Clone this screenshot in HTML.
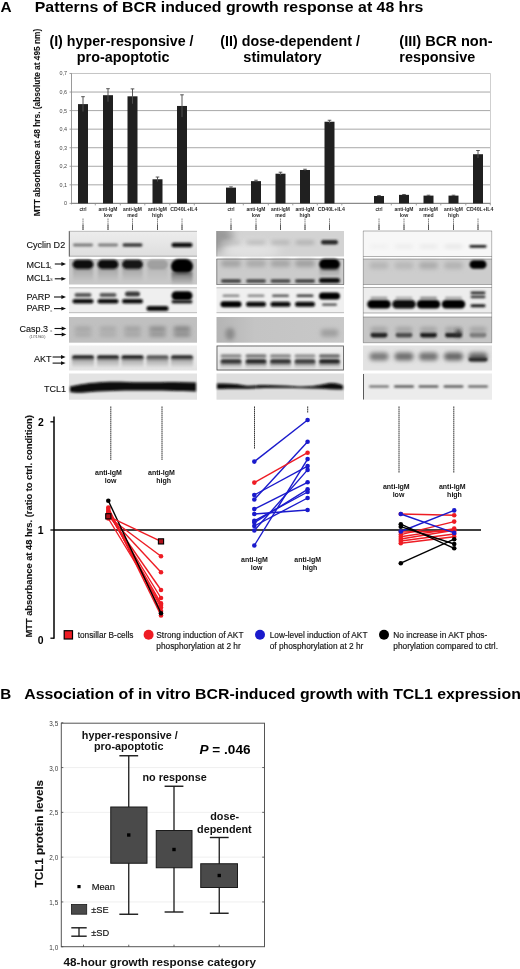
<!DOCTYPE html>
<html><head><meta charset="utf-8"><style>
html,body{margin:0;padding:0;background:#fff;}
body{width:520px;height:969px;overflow:hidden;}
svg{display:block;font-family:"Liberation Sans", sans-serif;filter:blur(0.3px);}
</style></head><body>
<svg width="520" height="969" viewBox="0 0 520 969">
<rect width="520" height="969" fill="#fff"/>
<text x="0.4" y="11.5" font-size="15.4" font-weight="bold" text-anchor="start" fill="#000" >A</text>
<text x="34.8" y="11.5" font-size="15.2" font-weight="bold" text-anchor="start" fill="#000"  textLength="388.5" lengthAdjust="spacingAndGlyphs">Patterns of BCR induced growth response at 48 hrs</text>
<text x="49.4" y="45.5" font-size="14.2" font-weight="bold" text-anchor="start" fill="#000"  textLength="144.2" lengthAdjust="spacingAndGlyphs">(I) hyper-responsive /</text>
<text x="76.8" y="61.7" font-size="14.2" font-weight="bold" text-anchor="start" fill="#000"  textLength="92.6" lengthAdjust="spacingAndGlyphs">pro-apoptotic</text>
<text x="220.3" y="45.5" font-size="14.2" font-weight="bold" text-anchor="start" fill="#000"  textLength="139.6" lengthAdjust="spacingAndGlyphs">(II) dose-dependent /</text>
<text x="243.3" y="61.7" font-size="14.2" font-weight="bold" text-anchor="start" fill="#000"  textLength="78.4" lengthAdjust="spacingAndGlyphs">stimulatory</text>
<text x="399.3" y="45.5" font-size="14.2" font-weight="bold" text-anchor="start" fill="#000"  textLength="93.2" lengthAdjust="spacingAndGlyphs">(III) BCR non-</text>
<text x="399.3" y="61.7" font-size="14.2" font-weight="bold" text-anchor="start" fill="#000"  textLength="76" lengthAdjust="spacingAndGlyphs">responsive</text>
<line x1="71" y1="184.84" x2="490.5" y2="184.84" stroke="#a8a8a8" stroke-width="1" />
<line x1="71" y1="166.28" x2="490.5" y2="166.28" stroke="#a8a8a8" stroke-width="1" />
<line x1="71" y1="147.72" x2="490.5" y2="147.72" stroke="#a8a8a8" stroke-width="1" />
<line x1="71" y1="129.16000000000003" x2="490.5" y2="129.16000000000003" stroke="#a8a8a8" stroke-width="1" />
<line x1="71" y1="110.60000000000001" x2="490.5" y2="110.60000000000001" stroke="#a8a8a8" stroke-width="1" />
<line x1="71" y1="92.04" x2="490.5" y2="92.04" stroke="#a8a8a8" stroke-width="1" />
<line x1="71" y1="73.48000000000002" x2="490.5" y2="73.48000000000002" stroke="#c4c4c4" stroke-width="1" />
<line x1="490.5" y1="73.48000000000002" x2="490.5" y2="203.4" stroke="#cfcfcf" stroke-width="1" />
<line x1="71.5" y1="73.48000000000002" x2="71.5" y2="204.4" stroke="#9a9a9a" stroke-width="1" />
<line x1="71" y1="203.4" x2="490.5" y2="203.4" stroke="#8a8a8a" stroke-width="1.1" />
<line x1="69.5" y1="203.4" x2="71.5" y2="203.4" stroke="#8a8a8a" stroke-width="0.8" />
<text x="67" y="205.3" font-size="5.4" text-anchor="end" fill="#444" >0</text>
<line x1="69.5" y1="184.84" x2="71.5" y2="184.84" stroke="#8a8a8a" stroke-width="0.8" />
<text x="67" y="186.74" font-size="5.4" text-anchor="end" fill="#444" >0,1</text>
<line x1="69.5" y1="166.28" x2="71.5" y2="166.28" stroke="#8a8a8a" stroke-width="0.8" />
<text x="67" y="168.18" font-size="5.4" text-anchor="end" fill="#444" >0,2</text>
<line x1="69.5" y1="147.72" x2="71.5" y2="147.72" stroke="#8a8a8a" stroke-width="0.8" />
<text x="67" y="149.62" font-size="5.4" text-anchor="end" fill="#444" >0,3</text>
<line x1="69.5" y1="129.16000000000003" x2="71.5" y2="129.16000000000003" stroke="#8a8a8a" stroke-width="0.8" />
<text x="67" y="131.06000000000003" font-size="5.4" text-anchor="end" fill="#444" >0,4</text>
<line x1="69.5" y1="110.60000000000001" x2="71.5" y2="110.60000000000001" stroke="#8a8a8a" stroke-width="0.8" />
<text x="67" y="112.50000000000001" font-size="5.4" text-anchor="end" fill="#444" >0,5</text>
<line x1="69.5" y1="92.04" x2="71.5" y2="92.04" stroke="#8a8a8a" stroke-width="0.8" />
<text x="67" y="93.94000000000001" font-size="5.4" text-anchor="end" fill="#444" >0,6</text>
<line x1="69.5" y1="73.48000000000002" x2="71.5" y2="73.48000000000002" stroke="#8a8a8a" stroke-width="0.8" />
<text x="67" y="75.38000000000002" font-size="5.4" text-anchor="end" fill="#444" >0,7</text>
<line x1="95.3" y1="203.4" x2="95.3" y2="205.4" stroke="#8a8a8a" stroke-width="0.8" />
<line x1="120.3" y1="203.4" x2="120.3" y2="205.4" stroke="#8a8a8a" stroke-width="0.8" />
<line x1="144.8" y1="203.4" x2="144.8" y2="205.4" stroke="#8a8a8a" stroke-width="0.8" />
<line x1="169.8" y1="203.4" x2="169.8" y2="205.4" stroke="#8a8a8a" stroke-width="0.8" />
<line x1="194.3" y1="203.4" x2="194.3" y2="205.4" stroke="#8a8a8a" stroke-width="0.8" />
<line x1="243.3" y1="203.4" x2="243.3" y2="205.4" stroke="#8a8a8a" stroke-width="0.8" />
<line x1="268.3" y1="203.4" x2="268.3" y2="205.4" stroke="#8a8a8a" stroke-width="0.8" />
<line x1="292.8" y1="203.4" x2="292.8" y2="205.4" stroke="#8a8a8a" stroke-width="0.8" />
<line x1="317.3" y1="203.4" x2="317.3" y2="205.4" stroke="#8a8a8a" stroke-width="0.8" />
<line x1="341.8" y1="203.4" x2="341.8" y2="205.4" stroke="#8a8a8a" stroke-width="0.8" />
<line x1="391.3" y1="203.4" x2="391.3" y2="205.4" stroke="#8a8a8a" stroke-width="0.8" />
<line x1="416.3" y1="203.4" x2="416.3" y2="205.4" stroke="#8a8a8a" stroke-width="0.8" />
<line x1="440.8" y1="203.4" x2="440.8" y2="205.4" stroke="#8a8a8a" stroke-width="0.8" />
<line x1="465.8" y1="203.4" x2="465.8" y2="205.4" stroke="#8a8a8a" stroke-width="0.8" />
<line x1="490.3" y1="203.4" x2="490.3" y2="205.4" stroke="#8a8a8a" stroke-width="0.8" />
<rect x="78" y="104.104" width="10" height="99.296" fill="#202020" />
<line x1="83" y1="104.104" x2="83" y2="111.528" stroke="#5a5a5a" stroke-width="0.8" />
<line x1="83" y1="96.67999999999999" x2="83" y2="104.104" stroke="#444" stroke-width="0.9" />
<line x1="81.2" y1="96.67999999999999" x2="84.8" y2="96.67999999999999" stroke="#444" stroke-width="0.9" />
<rect x="103" y="95.19520000000001" width="10" height="108.20479999999999" fill="#202020" />
<line x1="108" y1="95.19520000000001" x2="108" y2="101.69120000000002" stroke="#5a5a5a" stroke-width="0.8" />
<line x1="108" y1="88.6992" x2="108" y2="95.19520000000001" stroke="#444" stroke-width="0.9" />
<line x1="106.2" y1="88.6992" x2="109.8" y2="88.6992" stroke="#444" stroke-width="0.9" />
<rect x="127.5" y="96.30880000000002" width="10" height="107.09119999999999" fill="#202020" />
<line x1="132.5" y1="96.30880000000002" x2="132.5" y2="103.73280000000003" stroke="#5a5a5a" stroke-width="0.8" />
<line x1="132.5" y1="88.88480000000001" x2="132.5" y2="96.30880000000002" stroke="#444" stroke-width="0.9" />
<line x1="130.7" y1="88.88480000000001" x2="134.3" y2="88.88480000000001" stroke="#444" stroke-width="0.9" />
<rect x="152.5" y="179.272" width="10" height="24.128" fill="#202020" />
<line x1="157.5" y1="179.272" x2="157.5" y2="181.4992" stroke="#5a5a5a" stroke-width="0.8" />
<line x1="157.5" y1="177.0448" x2="157.5" y2="179.272" stroke="#444" stroke-width="0.9" />
<line x1="155.7" y1="177.0448" x2="159.3" y2="177.0448" stroke="#444" stroke-width="0.9" />
<rect x="177" y="105.96000000000001" width="10" height="97.44" fill="#202020" />
<line x1="182" y1="105.96000000000001" x2="182" y2="117.096" stroke="#5a5a5a" stroke-width="0.8" />
<line x1="182" y1="94.82400000000001" x2="182" y2="105.96000000000001" stroke="#444" stroke-width="0.9" />
<line x1="180.2" y1="94.82400000000001" x2="183.8" y2="94.82400000000001" stroke="#444" stroke-width="0.9" />
<rect x="226" y="187.624" width="10" height="15.776" fill="#202020" />
<line x1="231" y1="187.624" x2="231" y2="188.3664" stroke="#5a5a5a" stroke-width="0.8" />
<line x1="231" y1="186.8816" x2="231" y2="187.624" stroke="#444" stroke-width="0.9" />
<line x1="229.2" y1="186.8816" x2="232.8" y2="186.8816" stroke="#444" stroke-width="0.9" />
<rect x="251" y="181.12800000000001" width="10" height="22.272" fill="#202020" />
<line x1="256" y1="181.12800000000001" x2="256" y2="182.056" stroke="#5a5a5a" stroke-width="0.8" />
<line x1="256" y1="180.20000000000002" x2="256" y2="181.12800000000001" stroke="#444" stroke-width="0.9" />
<line x1="254.2" y1="180.20000000000002" x2="257.8" y2="180.20000000000002" stroke="#444" stroke-width="0.9" />
<rect x="275.5" y="173.704" width="10" height="29.695999999999998" fill="#202020" />
<line x1="280.5" y1="173.704" x2="280.5" y2="175.18880000000001" stroke="#5a5a5a" stroke-width="0.8" />
<line x1="280.5" y1="172.2192" x2="280.5" y2="173.704" stroke="#444" stroke-width="0.9" />
<line x1="278.7" y1="172.2192" x2="282.3" y2="172.2192" stroke="#444" stroke-width="0.9" />
<rect x="300" y="169.99200000000002" width="10" height="33.408" fill="#202020" />
<line x1="305" y1="169.99200000000002" x2="305" y2="170.7344" stroke="#5a5a5a" stroke-width="0.8" />
<line x1="305" y1="169.24960000000002" x2="305" y2="169.99200000000002" stroke="#444" stroke-width="0.9" />
<line x1="303.2" y1="169.24960000000002" x2="306.8" y2="169.24960000000002" stroke="#444" stroke-width="0.9" />
<rect x="324.5" y="121.736" width="10" height="81.664" fill="#202020" />
<line x1="329.5" y1="121.736" x2="329.5" y2="123.22080000000001" stroke="#5a5a5a" stroke-width="0.8" />
<line x1="329.5" y1="120.25120000000001" x2="329.5" y2="121.736" stroke="#444" stroke-width="0.9" />
<line x1="327.7" y1="120.25120000000001" x2="331.3" y2="120.25120000000001" stroke="#444" stroke-width="0.9" />
<rect x="374" y="195.976" width="10" height="7.4239999999999995" fill="#202020" />
<line x1="379" y1="195.976" x2="379" y2="196.34720000000002" stroke="#5a5a5a" stroke-width="0.8" />
<line x1="379" y1="195.6048" x2="379" y2="195.976" stroke="#444" stroke-width="0.9" />
<line x1="377.2" y1="195.6048" x2="380.8" y2="195.6048" stroke="#444" stroke-width="0.9" />
<rect x="399" y="194.8624" width="10" height="8.5376" fill="#202020" />
<line x1="404" y1="194.8624" x2="404" y2="195.2336" stroke="#5a5a5a" stroke-width="0.8" />
<line x1="404" y1="194.4912" x2="404" y2="194.8624" stroke="#444" stroke-width="0.9" />
<line x1="402.2" y1="194.4912" x2="405.8" y2="194.4912" stroke="#444" stroke-width="0.9" />
<rect x="423.5" y="195.6048" width="10" height="7.7952" fill="#202020" />
<line x1="428.5" y1="195.6048" x2="428.5" y2="195.976" stroke="#5a5a5a" stroke-width="0.8" />
<line x1="428.5" y1="195.2336" x2="428.5" y2="195.6048" stroke="#444" stroke-width="0.9" />
<line x1="426.7" y1="195.2336" x2="430.3" y2="195.2336" stroke="#444" stroke-width="0.9" />
<rect x="448.5" y="195.6048" width="10" height="7.7952" fill="#202020" />
<line x1="453.5" y1="195.6048" x2="453.5" y2="195.976" stroke="#5a5a5a" stroke-width="0.8" />
<line x1="453.5" y1="195.2336" x2="453.5" y2="195.6048" stroke="#444" stroke-width="0.9" />
<line x1="451.7" y1="195.2336" x2="455.3" y2="195.2336" stroke="#444" stroke-width="0.9" />
<rect x="473" y="154.216" width="10" height="49.184" fill="#202020" />
<line x1="478" y1="154.216" x2="478" y2="157.928" stroke="#5a5a5a" stroke-width="0.8" />
<line x1="478" y1="150.50400000000002" x2="478" y2="154.216" stroke="#444" stroke-width="0.9" />
<line x1="476.2" y1="150.50400000000002" x2="479.8" y2="150.50400000000002" stroke="#444" stroke-width="0.9" />
<text x="83" y="211.1" font-size="5.6" font-weight="bold" text-anchor="middle" fill="#2a2a2a"  textLength="7.2" lengthAdjust="spacingAndGlyphs">ctrl</text>
<line x1="83" y1="218.5" x2="83" y2="230" stroke="#555" stroke-width="0.8" stroke-dasharray="1.4 0.6"/>
<text x="108" y="211.1" font-size="5.6" font-weight="bold" text-anchor="middle" fill="#2a2a2a"  textLength="19.0" lengthAdjust="spacingAndGlyphs">anti-IgM</text>
<text x="108" y="216.6" font-size="5.6" font-weight="bold" text-anchor="middle" fill="#2a2a2a"  textLength="8.6" lengthAdjust="spacingAndGlyphs">low</text>
<line x1="108" y1="218.5" x2="108" y2="230" stroke="#555" stroke-width="0.8" stroke-dasharray="1.4 0.6"/>
<text x="132.5" y="211.1" font-size="5.6" font-weight="bold" text-anchor="middle" fill="#2a2a2a"  textLength="19.0" lengthAdjust="spacingAndGlyphs">anti-IgM</text>
<text x="132.5" y="216.6" font-size="5.6" font-weight="bold" text-anchor="middle" fill="#2a2a2a"  textLength="10.5" lengthAdjust="spacingAndGlyphs">med</text>
<line x1="132.5" y1="218.5" x2="132.5" y2="230" stroke="#555" stroke-width="0.8" stroke-dasharray="1.4 0.6"/>
<text x="157.5" y="211.1" font-size="5.6" font-weight="bold" text-anchor="middle" fill="#2a2a2a"  textLength="19.0" lengthAdjust="spacingAndGlyphs">anti-IgM</text>
<text x="157.5" y="216.6" font-size="5.6" font-weight="bold" text-anchor="middle" fill="#2a2a2a"  textLength="10.8" lengthAdjust="spacingAndGlyphs">high</text>
<line x1="157.5" y1="218.5" x2="157.5" y2="230" stroke="#555" stroke-width="0.8" stroke-dasharray="1.4 0.6"/>
<text x="183.8" y="211.1" font-size="5.6" font-weight="bold" text-anchor="middle" fill="#2a2a2a"  textLength="27.2" lengthAdjust="spacingAndGlyphs">CD40L+IL4</text>
<line x1="182" y1="218.5" x2="182" y2="230" stroke="#555" stroke-width="0.8" stroke-dasharray="1.4 0.6"/>
<text x="231" y="211.1" font-size="5.6" font-weight="bold" text-anchor="middle" fill="#2a2a2a"  textLength="7.2" lengthAdjust="spacingAndGlyphs">ctrl</text>
<line x1="231" y1="218.5" x2="231" y2="230" stroke="#555" stroke-width="0.8" stroke-dasharray="1.4 0.6"/>
<text x="256" y="211.1" font-size="5.6" font-weight="bold" text-anchor="middle" fill="#2a2a2a"  textLength="19.0" lengthAdjust="spacingAndGlyphs">anti-IgM</text>
<text x="256" y="216.6" font-size="5.6" font-weight="bold" text-anchor="middle" fill="#2a2a2a"  textLength="8.6" lengthAdjust="spacingAndGlyphs">low</text>
<line x1="256" y1="218.5" x2="256" y2="230" stroke="#555" stroke-width="0.8" stroke-dasharray="1.4 0.6"/>
<text x="280.5" y="211.1" font-size="5.6" font-weight="bold" text-anchor="middle" fill="#2a2a2a"  textLength="19.0" lengthAdjust="spacingAndGlyphs">anti-IgM</text>
<text x="280.5" y="216.6" font-size="5.6" font-weight="bold" text-anchor="middle" fill="#2a2a2a"  textLength="10.5" lengthAdjust="spacingAndGlyphs">med</text>
<line x1="280.5" y1="218.5" x2="280.5" y2="230" stroke="#555" stroke-width="0.8" stroke-dasharray="1.4 0.6"/>
<text x="305" y="211.1" font-size="5.6" font-weight="bold" text-anchor="middle" fill="#2a2a2a"  textLength="19.0" lengthAdjust="spacingAndGlyphs">anti-IgM</text>
<text x="305" y="216.6" font-size="5.6" font-weight="bold" text-anchor="middle" fill="#2a2a2a"  textLength="10.8" lengthAdjust="spacingAndGlyphs">high</text>
<line x1="305" y1="218.5" x2="305" y2="230" stroke="#555" stroke-width="0.8" stroke-dasharray="1.4 0.6"/>
<text x="331.3" y="211.1" font-size="5.6" font-weight="bold" text-anchor="middle" fill="#2a2a2a"  textLength="27.2" lengthAdjust="spacingAndGlyphs">CD40L+IL4</text>
<line x1="329.5" y1="218.5" x2="329.5" y2="230" stroke="#555" stroke-width="0.8" stroke-dasharray="1.4 0.6"/>
<text x="379" y="211.1" font-size="5.6" font-weight="bold" text-anchor="middle" fill="#2a2a2a"  textLength="7.2" lengthAdjust="spacingAndGlyphs">ctrl</text>
<line x1="379" y1="218.5" x2="379" y2="230" stroke="#555" stroke-width="0.8" stroke-dasharray="1.4 0.6"/>
<text x="404" y="211.1" font-size="5.6" font-weight="bold" text-anchor="middle" fill="#2a2a2a"  textLength="19.0" lengthAdjust="spacingAndGlyphs">anti-IgM</text>
<text x="404" y="216.6" font-size="5.6" font-weight="bold" text-anchor="middle" fill="#2a2a2a"  textLength="8.6" lengthAdjust="spacingAndGlyphs">low</text>
<line x1="404" y1="218.5" x2="404" y2="230" stroke="#555" stroke-width="0.8" stroke-dasharray="1.4 0.6"/>
<text x="428.5" y="211.1" font-size="5.6" font-weight="bold" text-anchor="middle" fill="#2a2a2a"  textLength="19.0" lengthAdjust="spacingAndGlyphs">anti-IgM</text>
<text x="428.5" y="216.6" font-size="5.6" font-weight="bold" text-anchor="middle" fill="#2a2a2a"  textLength="10.5" lengthAdjust="spacingAndGlyphs">med</text>
<line x1="428.5" y1="218.5" x2="428.5" y2="230" stroke="#555" stroke-width="0.8" stroke-dasharray="1.4 0.6"/>
<text x="453.5" y="211.1" font-size="5.6" font-weight="bold" text-anchor="middle" fill="#2a2a2a"  textLength="19.0" lengthAdjust="spacingAndGlyphs">anti-IgM</text>
<text x="453.5" y="216.6" font-size="5.6" font-weight="bold" text-anchor="middle" fill="#2a2a2a"  textLength="10.8" lengthAdjust="spacingAndGlyphs">high</text>
<line x1="453.5" y1="218.5" x2="453.5" y2="230" stroke="#555" stroke-width="0.8" stroke-dasharray="1.4 0.6"/>
<text x="479.8" y="211.1" font-size="5.6" font-weight="bold" text-anchor="middle" fill="#2a2a2a"  textLength="27.2" lengthAdjust="spacingAndGlyphs">CD40L+IL4</text>
<line x1="478" y1="218.5" x2="478" y2="230" stroke="#555" stroke-width="0.8" stroke-dasharray="1.4 0.6"/>
<text transform="translate(40.2,216.3) rotate(-90)" font-size="8.3" font-weight="bold" fill="#111" stroke="#111" stroke-width="0.1" textLength="187.5" lengthAdjust="spacingAndGlyphs">MTT absorbance at 48 hrs. (absolute at 495 nm)</text>
<defs><filter id="b1" x="-50%" y="-100%" width="200%" height="300%"><feGaussianBlur stdDeviation="0.9"/></filter><filter id="bl" x="-50%" y="-100%" width="200%" height="300%"><feGaussianBlur stdDeviation="1.3"/></filter><filter id="bl2" x="-50%" y="-100%" width="200%" height="300%"><feGaussianBlur stdDeviation="2.2"/></filter><filter id="bl3" x="-50%" y="-50%" width="200%" height="200%"><feGaussianBlur stdDeviation="4"/></filter><radialGradient id="g2c" cx="0.05" cy="0.2" r="0.9" gradientTransform="translate(0.05,0.2) scale(1,3) translate(-0.05,-0.2)"><stop offset="0" stop-color="#a4a4a4"/><stop offset="0.25" stop-color="#c6c6c6"/><stop offset="0.6" stop-color="#d2d2d2"/><stop offset="1" stop-color="#dcdcdc"/></radialGradient><linearGradient id="g1c" x1="0" y1="0" x2="0" y2="1"><stop offset="0" stop-color="#ededed"/><stop offset="1" stop-color="#dedede"/></linearGradient><linearGradient id="akt" x1="0" y1="0" x2="0" y2="1"><stop offset="0" stop-color="#f0f0f0"/><stop offset="1" stop-color="#e2e2e2"/></linearGradient><linearGradient id="smear" x1="0" y1="0" x2="0" y2="1"><stop offset="0" stop-color="#666"/><stop offset="1" stop-color="#666" stop-opacity="0"/></linearGradient><linearGradient id="g2casp" x1="0" y1="0" x2="1" y2="0"><stop offset="0" stop-color="#b4b4b4"/><stop offset="0.3" stop-color="#c4c4c4"/><stop offset="1" stop-color="#c8c8c8"/></linearGradient></defs>
<rect x="69" y="231" width="128" height="25.5" fill="url(#g1c)" />
<rect x="69" y="259" width="128" height="25.5" fill="#c8c8c8" />
<rect x="69" y="287.5" width="128" height="25.5" fill="#efefef" />
<rect x="69" y="317" width="128" height="25.69999999999999" fill="#c0c0c0" />
<rect x="69" y="345.5" width="128" height="25.0" fill="url(#akt)" />
<rect x="69" y="373.5" width="128" height="26.19999999999999" fill="#e3e3e3" />
<rect x="216.5" y="231" width="127.5" height="25.5" fill="#d3d3d3" />
<rect x="216.5" y="259" width="127.5" height="25.5" fill="#cbcbcb" />
<rect x="216.5" y="287.5" width="127.5" height="25.5" fill="#f0f0f0" />
<rect x="216.5" y="317" width="127.5" height="25.69999999999999" fill="url(#g2casp)" />
<rect x="216.5" y="345.5" width="127.5" height="25.0" fill="url(#akt)" />
<rect x="216.5" y="373.5" width="127.5" height="26.19999999999999" fill="#dedede" />
<rect x="363" y="231" width="129" height="25.5" fill="#f7f7f7" />
<rect x="363" y="259" width="129" height="25.5" fill="#cdcdcd" />
<rect x="363" y="287.5" width="129" height="25.5" fill="#ededed" />
<rect x="363" y="317" width="129" height="25.69999999999999" fill="#c6c6c6" />
<rect x="363" y="345.5" width="129" height="25.0" fill="#e2e2e2" />
<rect x="363" y="373.5" width="129" height="26.19999999999999" fill="#ececec" />
<rect x="73.0" y="243.6" width="20" height="2.8" rx="1.4" fill="#7a7a7a" opacity="1" filter="url(#bl)"/>
<rect x="98.0" y="243.6" width="20" height="2.8" rx="1.4" fill="#7e7e7e" opacity="1" filter="url(#bl)"/>
<rect x="122.5" y="243.3" width="20" height="3.4" rx="1.7" fill="#3a3a3a" opacity="1" filter="url(#bl)"/>
<rect x="171.5" y="242.7" width="21" height="4.6" rx="2.3" fill="#101010" opacity="1" filter="url(#bl)"/>
<rect x="72.5" y="259.75" width="21" height="9.5" rx="4.75" fill="#101010" opacity="1" filter="url(#bl)"/>
<rect x="73.0" y="268" width="20" height="14" fill="url(#smear)" opacity="0.35" filter="url(#b1)"/>
<rect x="97.5" y="259.75" width="21" height="9.5" rx="4.75" fill="#101010" opacity="1" filter="url(#bl)"/>
<rect x="98.0" y="268" width="20" height="14" fill="url(#smear)" opacity="0.35" filter="url(#b1)"/>
<rect x="122.0" y="259.75" width="21" height="9.5" rx="4.75" fill="#181818" opacity="1" filter="url(#bl)"/>
<rect x="122.5" y="268" width="20" height="14" fill="url(#smear)" opacity="0.35" filter="url(#b1)"/>
<rect x="147.0" y="259.75" width="21" height="9.5" rx="4.75" fill="#a0a0a0" opacity="1" filter="url(#bl)"/>
<rect x="147.5" y="268" width="20" height="14" fill="url(#smear)" opacity="0.15" filter="url(#b1)"/>
<rect x="171.0" y="259.0" width="22" height="15" rx="7.5" fill="#060606" opacity="1" filter="url(#bl)"/>
<rect x="171.5" y="272" width="21" height="13" fill="url(#smear)" opacity="0.9" filter="url(#b1)"/>
<rect x="74.5" y="293.0" width="17" height="4" rx="2.0" fill="#5a5a5a" opacity="1" filter="url(#bl)"/>
<rect x="72.5" y="299.0" width="21" height="4.6" rx="2.3" fill="#101010" opacity="1" filter="url(#bl)"/>
<rect x="99.5" y="293.0" width="17" height="4" rx="2.0" fill="#5a5a5a" opacity="1" filter="url(#bl)"/>
<rect x="97.5" y="299.0" width="21" height="4.6" rx="2.3" fill="#101010" opacity="1" filter="url(#bl)"/>
<rect x="125.0" y="291.5" width="15" height="5" rx="2.5" fill="#3a3a3a" opacity="1" filter="url(#bl)"/>
<rect x="122.0" y="299.0" width="21" height="4.6" rx="2.3" fill="#101010" opacity="1" filter="url(#bl)"/>
<rect x="146.5" y="306.1" width="22" height="5" rx="2.5" fill="#0a0a0a" opacity="1" filter="url(#bl)"/>
<rect x="171.5" y="291.3" width="21" height="9" rx="4.5" fill="#050505" opacity="1" filter="url(#bl)"/>
<rect x="171.5" y="300.1" width="21" height="3.4" rx="1.7" fill="#222" opacity="1" filter="url(#bl)"/>
<line x1="69" y1="287.8" x2="197" y2="287.8" stroke="#999" stroke-width="0.6" />
<line x1="69" y1="312.7" x2="197" y2="312.7" stroke="#999" stroke-width="0.6" />
<rect x="74.5" y="326.75" width="17" height="4.5" rx="2.25" fill="#a2a2a2" opacity="1" filter="url(#bl2)"/>
<rect x="74.5" y="332.75" width="17" height="3.5" rx="1.75" fill="#a2a2a2" opacity="1" filter="url(#bl2)"/>
<rect x="99.5" y="326.75" width="17" height="4.5" rx="2.25" fill="#a6a6a6" opacity="1" filter="url(#bl2)"/>
<rect x="99.5" y="332.75" width="17" height="3.5" rx="1.75" fill="#a6a6a6" opacity="1" filter="url(#bl2)"/>
<rect x="124.0" y="326.75" width="17" height="4.5" rx="2.25" fill="#9c9c9c" opacity="1" filter="url(#bl2)"/>
<rect x="124.0" y="332.75" width="17" height="3.5" rx="1.75" fill="#9c9c9c" opacity="1" filter="url(#bl2)"/>
<rect x="149.0" y="326.75" width="17" height="4.5" rx="2.25" fill="#858585" opacity="1" filter="url(#bl2)"/>
<rect x="149.0" y="332.75" width="17" height="3.5" rx="1.75" fill="#858585" opacity="1" filter="url(#bl2)"/>
<rect x="173.5" y="326.75" width="17" height="4.5" rx="2.25" fill="#7a7a7a" opacity="1" filter="url(#bl2)"/>
<rect x="173.5" y="332.75" width="17" height="3.5" rx="1.75" fill="#7a7a7a" opacity="1" filter="url(#bl2)"/>
<rect x="72.0" y="355.3" width="22" height="4" rx="2.0" fill="#222" opacity="1" filter="url(#bl)"/>
<rect x="72.0" y="358" width="22" height="10" fill="url(#smear)" opacity="0.6" filter="url(#b1)"/>
<rect x="97.0" y="355.3" width="22" height="4" rx="2.0" fill="#222" opacity="1" filter="url(#bl)"/>
<rect x="97.0" y="358" width="22" height="10" fill="url(#smear)" opacity="0.6" filter="url(#b1)"/>
<rect x="121.5" y="355.3" width="22" height="4" rx="2.0" fill="#1e1e1e" opacity="1" filter="url(#bl)"/>
<rect x="121.5" y="358" width="22" height="10" fill="url(#smear)" opacity="0.6" filter="url(#b1)"/>
<rect x="146.5" y="355.3" width="22" height="4" rx="2.0" fill="#5a5a5a" opacity="1" filter="url(#bl)"/>
<rect x="146.5" y="358" width="22" height="10" fill="url(#smear)" opacity="0.6" filter="url(#b1)"/>
<rect x="171.0" y="355.3" width="22" height="4" rx="2.0" fill="#2a2a2a" opacity="1" filter="url(#bl)"/>
<rect x="171.0" y="358" width="22" height="10" fill="url(#smear)" opacity="0.6" filter="url(#b1)"/>
<path d="M70,386.5 C80,384.5 90,382.5 105,382 C120,381.5 130,382.5 145,382.3 C165,382 180,381.5 196,382.5 L196,391.5 C180,391 160,390.5 140,390.5 C120,390.5 100,391 85,392.5 C78,393 72,392.5 70,392 Z" fill="#080808" filter="url(#b1)"/>
<line x1="69.3" y1="231" x2="69.3" y2="256.5" stroke="#555" stroke-width="1" />
<line x1="69" y1="231.3" x2="197" y2="231.3" stroke="#999" stroke-width="0.6" />
<line x1="69" y1="256.2" x2="197" y2="256.2" stroke="#888" stroke-width="0.6" />
<clipPath id="cp2c"><rect x="216.5" y="231" width="127.5" height="25.5"/></clipPath>
<g clip-path="url(#cp2c)"><ellipse cx="219" cy="238" rx="14" ry="14" fill="#9a9a9a" filter="url(#bl3)"/><ellipse cx="250" cy="250" rx="30" ry="8" fill="#e2e2e2" filter="url(#bl3)"/></g>
<rect x="221.5" y="240.9" width="19" height="3.2" rx="1.6" fill="#bcbcbc" opacity="1" filter="url(#bl2)"/>
<rect x="246.5" y="240.9" width="19" height="3.2" rx="1.6" fill="#b0b0b0" opacity="1" filter="url(#bl2)"/>
<rect x="271.0" y="240.9" width="19" height="3.2" rx="1.6" fill="#aaaaaa" opacity="1" filter="url(#bl2)"/>
<rect x="295.5" y="240.9" width="19" height="3.2" rx="1.6" fill="#a2a2a2" opacity="1" filter="url(#bl2)"/>
<rect x="321.0" y="240.0" width="17" height="4.6" rx="2.3" fill="#262626" opacity="1" filter="url(#bl)"/>
<rect x="221.0" y="260.0" width="20" height="7" rx="3.5" fill="#a4a4a4" opacity="1" filter="url(#bl2)"/>
<rect x="246.0" y="260.0" width="20" height="7" rx="3.5" fill="#aaaaaa" opacity="1" filter="url(#bl2)"/>
<rect x="270.5" y="260.0" width="20" height="7" rx="3.5" fill="#a6a6a6" opacity="1" filter="url(#bl2)"/>
<rect x="295.0" y="260.0" width="20" height="7" rx="3.5" fill="#a0a0a0" opacity="1" filter="url(#bl2)"/>
<rect x="319.0" y="258.8" width="21" height="11" rx="5.5" fill="#050505" opacity="1" filter="url(#bl)"/>
<rect x="221.0" y="279.2" width="20" height="3.6" rx="1.8" fill="#3e3e3e" opacity="1" filter="url(#bl)"/>
<rect x="246.0" y="279.2" width="20" height="3.6" rx="1.8" fill="#464646" opacity="1" filter="url(#bl)"/>
<rect x="270.5" y="279.2" width="20" height="3.6" rx="1.8" fill="#464646" opacity="1" filter="url(#bl)"/>
<rect x="295.0" y="279.2" width="20" height="3.6" rx="1.8" fill="#3e3e3e" opacity="1" filter="url(#bl)"/>
<rect x="319.0" y="278.0" width="21" height="5" rx="2.5" fill="#0e0e0e" opacity="1" filter="url(#bl)"/>
<rect x="319.5" y="268" width="20" height="10" fill="url(#smear)" opacity="0.5" filter="url(#b1)"/>
<rect x="222.5" y="294.5" width="17" height="2.6" rx="1.3" fill="#8a8a8a" opacity="1" filter="url(#bl)"/>
<rect x="247.5" y="294.5" width="17" height="2.6" rx="1.3" fill="#8a8a8a" opacity="1" filter="url(#bl)"/>
<rect x="272.0" y="294.5" width="17" height="2.6" rx="1.3" fill="#5a5a5a" opacity="1" filter="url(#bl)"/>
<rect x="296.5" y="294.5" width="17" height="2.6" rx="1.3" fill="#3a3a3a" opacity="1" filter="url(#bl)"/>
<rect x="319.0" y="292.5" width="21" height="7" rx="3.5" fill="#050505" opacity="1" filter="url(#bl)"/>
<rect x="220.5" y="301.3" width="21" height="6" rx="3.0" fill="#050505" opacity="1" filter="url(#bl)"/>
<rect x="246.0" y="301.8" width="20" height="5" rx="2.5" fill="#0a0a0a" opacity="1" filter="url(#bl)"/>
<rect x="270.5" y="301.8" width="20" height="5" rx="2.5" fill="#0a0a0a" opacity="1" filter="url(#bl)"/>
<rect x="295.0" y="301.8" width="20" height="5" rx="2.5" fill="#0a0a0a" opacity="1" filter="url(#bl)"/>
<rect x="322.0" y="303.40000000000003" width="15" height="2.4" rx="1.2" fill="#4a4a4a" opacity="1" filter="url(#bl)"/>
<line x1="216.5" y1="287.8" x2="344" y2="287.8" stroke="#999" stroke-width="0.6" />
<line x1="216.5" y1="312.7" x2="344" y2="312.7" stroke="#999" stroke-width="0.6" />
<rect x="225.5" y="328.0" width="9" height="12" rx="4.5" fill="#8a8a8a" opacity="1" filter="url(#bl2)"/>
<rect x="320.5" y="329.0" width="18" height="8" rx="4.0" fill="#a0a0a0" opacity="1" filter="url(#bl2)"/>
<rect x="220.5" y="354.2" width="21" height="3.6" rx="1.8" fill="#8a8a8a" opacity="1" filter="url(#bl)"/>
<rect x="220.5" y="359.0" width="21" height="5" rx="2.5" fill="#3a3a3a" opacity="1" filter="url(#bl)"/>
<rect x="220.5" y="363" width="21" height="6" fill="url(#smear)" opacity="0.5" filter="url(#b1)"/>
<rect x="245.5" y="354.2" width="21" height="3.6" rx="1.8" fill="#7a7a7a" opacity="1" filter="url(#bl)"/>
<rect x="245.5" y="359.0" width="21" height="5" rx="2.5" fill="#2e2e2e" opacity="1" filter="url(#bl)"/>
<rect x="245.5" y="363" width="21" height="6" fill="url(#smear)" opacity="0.5" filter="url(#b1)"/>
<rect x="270.0" y="354.2" width="21" height="3.6" rx="1.8" fill="#8a8a8a" opacity="1" filter="url(#bl)"/>
<rect x="270.0" y="359.0" width="21" height="5" rx="2.5" fill="#383838" opacity="1" filter="url(#bl)"/>
<rect x="270.0" y="363" width="21" height="6" fill="url(#smear)" opacity="0.5" filter="url(#b1)"/>
<rect x="294.5" y="354.2" width="21" height="3.6" rx="1.8" fill="#959595" opacity="1" filter="url(#bl)"/>
<rect x="294.5" y="359.0" width="21" height="5" rx="2.5" fill="#444" opacity="1" filter="url(#bl)"/>
<rect x="294.5" y="363" width="21" height="6" fill="url(#smear)" opacity="0.5" filter="url(#b1)"/>
<rect x="319.0" y="354.2" width="21" height="3.6" rx="1.8" fill="#6a6a6a" opacity="1" filter="url(#bl)"/>
<rect x="319.0" y="359.0" width="21" height="5" rx="2.5" fill="#2a2a2a" opacity="1" filter="url(#bl)"/>
<rect x="319.0" y="363" width="21" height="6" fill="url(#smear)" opacity="0.5" filter="url(#b1)"/>
<rect x="217" y="346" width="126.5" height="24" fill="none" stroke="#505050" stroke-width="0.8"/>
<path d="M217,383.5 C225,383.5 235,383.5 245,385.5 C252,386.5 258,384.5 265,385 C275,385.5 285,385.5 295,386.3 C305,387 315,386 322,384.5 C330,382 338,382.5 343,385.5 L343,389.5 C335,389.5 325,389 315,388.5 C300,388 285,388 270,388 C255,388 245,389 235,388.8 C228,388.5 222,389 217,389 Z" fill="#080808" filter="url(#b1)"/>
<line x1="216.8" y1="231" x2="216.8" y2="256.5" stroke="#888" stroke-width="0.6" />
<line x1="216.5" y1="259" x2="344" y2="259" stroke="#666" stroke-width="0.7" />
<line x1="216.5" y1="284.5" x2="344" y2="284.5" stroke="#666" stroke-width="0.7" />
<line x1="216.8" y1="259" x2="216.8" y2="284.5" stroke="#666" stroke-width="0.7" />
<line x1="343.7" y1="259" x2="343.7" y2="284.5" stroke="#666" stroke-width="0.7" />
<rect x="370.0" y="245.2" width="18" height="2.6" rx="1.3" fill="#ececec" opacity="1" filter="url(#bl2)"/>
<rect x="395.0" y="245.2" width="18" height="2.6" rx="1.3" fill="#e6e6e6" opacity="1" filter="url(#bl2)"/>
<rect x="419.5" y="245.2" width="18" height="2.6" rx="1.3" fill="#e2e2e2" opacity="1" filter="url(#bl2)"/>
<rect x="444.5" y="245.2" width="18" height="2.6" rx="1.3" fill="#dedede" opacity="1" filter="url(#bl2)"/>
<rect x="469.5" y="244.9" width="17" height="2.8" rx="1.4" fill="#1e1e1e" opacity="1" filter="url(#bl)"/>
<rect x="369.5" y="262.0" width="19" height="7" rx="3.5" fill="#b6b6b6" opacity="1" filter="url(#bl2)"/>
<rect x="394.5" y="262.0" width="19" height="7" rx="3.5" fill="#b8b8b8" opacity="1" filter="url(#bl2)"/>
<rect x="419.0" y="262.0" width="19" height="7" rx="3.5" fill="#acacac" opacity="1" filter="url(#bl2)"/>
<rect x="444.0" y="262.0" width="19" height="7" rx="3.5" fill="#b2b2b2" opacity="1" filter="url(#bl2)"/>
<rect x="469.5" y="260.25" width="17" height="8.5" rx="4.25" fill="#050505" opacity="1" filter="url(#bl)"/>
<rect x="370.5" y="296.8" width="17" height="2.4" rx="1.2" fill="#9a9a9a" opacity="1" filter="url(#bl)"/>
<rect x="395.5" y="296.8" width="17" height="2.4" rx="1.2" fill="#aaaaaa" opacity="1" filter="url(#bl)"/>
<rect x="420.0" y="296.8" width="17" height="2.4" rx="1.2" fill="#8a8a8a" opacity="1" filter="url(#bl)"/>
<rect x="445.0" y="296.8" width="17" height="2.4" rx="1.2" fill="#a4a4a4" opacity="1" filter="url(#bl)"/>
<rect x="470.5" y="291.40000000000003" width="15" height="2.8" rx="1.4" fill="#2a2a2a" opacity="1" filter="url(#bl)"/>
<rect x="470.5" y="295.40000000000003" width="15" height="2.8" rx="1.4" fill="#3a3a3a" opacity="1" filter="url(#bl)"/>
<rect x="367.25" y="300.05" width="23.5" height="8.5" rx="4.25" fill="#030303" opacity="1" filter="url(#bl)"/>
<rect x="392.25" y="300.05" width="23.5" height="8.5" rx="4.25" fill="#080808" opacity="1" filter="url(#bl)"/>
<rect x="416.75" y="300.05" width="23.5" height="8.5" rx="4.25" fill="#000" opacity="1" filter="url(#bl)"/>
<rect x="441.75" y="300.05" width="23.5" height="8.5" rx="4.25" fill="#030303" opacity="1" filter="url(#bl)"/>
<rect x="470.5" y="304.3" width="15" height="3" rx="1.5" fill="#1a1a1a" opacity="1" filter="url(#bl)"/>
<rect x="370.5" y="332.6" width="17" height="4.8" rx="2.4" fill="#1a1a1a" opacity="1" filter="url(#bl)"/>
<rect x="370.5" y="327.5" width="17" height="4" rx="2.0" fill="#9a9a9a" opacity="1" filter="url(#bl2)"/>
<rect x="395.5" y="332.6" width="17" height="4.8" rx="2.4" fill="#4a4a4a" opacity="1" filter="url(#bl)"/>
<rect x="395.5" y="327.5" width="17" height="4" rx="2.0" fill="#9a9a9a" opacity="1" filter="url(#bl2)"/>
<rect x="420.0" y="332.6" width="17" height="4.8" rx="2.4" fill="#161616" opacity="1" filter="url(#bl)"/>
<rect x="420.0" y="327.5" width="17" height="4" rx="2.0" fill="#9a9a9a" opacity="1" filter="url(#bl2)"/>
<rect x="445.0" y="332.6" width="17" height="4.8" rx="2.4" fill="#1e1e1e" opacity="1" filter="url(#bl)"/>
<rect x="445.0" y="327.5" width="17" height="4" rx="2.0" fill="#9a9a9a" opacity="1" filter="url(#bl2)"/>
<rect x="469.5" y="332.6" width="17" height="4.8" rx="2.4" fill="#7a7a7a" opacity="1" filter="url(#bl)"/>
<rect x="469.5" y="327.5" width="17" height="4" rx="2.0" fill="#9a9a9a" opacity="1" filter="url(#bl2)"/>
<rect x="456.0" y="329.5" width="5" height="7" rx="2.5" fill="#333" opacity="1" filter="url(#bl2)"/>
<rect x="369.5" y="352.5" width="19" height="8" rx="4.0" fill="#7a7a7a" opacity="1" filter="url(#bl2)"/>
<rect x="394.5" y="352.5" width="19" height="8" rx="4.0" fill="#6e6e6e" opacity="1" filter="url(#bl2)"/>
<rect x="419.0" y="352.5" width="19" height="8" rx="4.0" fill="#727272" opacity="1" filter="url(#bl2)"/>
<rect x="444.0" y="352.5" width="19" height="8" rx="4.0" fill="#666" opacity="1" filter="url(#bl2)"/>
<rect x="468.5" y="352.5" width="19" height="8" rx="4.0" fill="#6a6a6a" opacity="1" filter="url(#bl2)"/>
<rect x="468.5" y="357.5" width="19" height="4" rx="2.0" fill="#2a2a2a" opacity="1" filter="url(#bl)"/>
<rect x="369.0" y="385.4" width="20" height="2.2" rx="1.1" fill="#606060" opacity="1" filter="url(#b1)"/>
<rect x="394.0" y="385.4" width="20" height="2.2" rx="1.1" fill="#3a3a3a" opacity="1" filter="url(#b1)"/>
<rect x="418.5" y="385.4" width="20" height="2.2" rx="1.1" fill="#404040" opacity="1" filter="url(#b1)"/>
<rect x="443.5" y="385.4" width="20" height="2.2" rx="1.1" fill="#3e3e3e" opacity="1" filter="url(#b1)"/>
<rect x="468.0" y="385.4" width="20" height="2.2" rx="1.1" fill="#505050" opacity="1" filter="url(#b1)"/>
<line x1="363.5" y1="374" x2="363.5" y2="399.5" stroke="#333" stroke-width="0.8" />
<line x1="363" y1="231" x2="492" y2="231" stroke="#666" stroke-width="0.5" />
<line x1="363" y1="256.5" x2="492" y2="256.5" stroke="#666" stroke-width="0.5" />
<line x1="363" y1="259" x2="492" y2="259" stroke="#666" stroke-width="0.5" />
<line x1="363" y1="284.5" x2="492" y2="284.5" stroke="#666" stroke-width="0.5" />
<line x1="363" y1="287.5" x2="492" y2="287.5" stroke="#666" stroke-width="0.5" />
<line x1="363" y1="313" x2="492" y2="313" stroke="#666" stroke-width="0.5" />
<line x1="363" y1="317" x2="492" y2="317" stroke="#666" stroke-width="0.5" />
<line x1="363" y1="342.7" x2="492" y2="342.7" stroke="#666" stroke-width="0.5" />
<line x1="363.3" y1="231" x2="363.3" y2="342.7" stroke="#777" stroke-width="0.5" />
<line x1="491.7" y1="231" x2="491.7" y2="342.7" stroke="#777" stroke-width="0.5" />
<line x1="83" y1="224.5" x2="83" y2="230" stroke="#444" stroke-width="0.8" />
<line x1="108" y1="224.5" x2="108" y2="230" stroke="#444" stroke-width="0.8" />
<line x1="132.5" y1="224.5" x2="132.5" y2="230" stroke="#444" stroke-width="0.8" />
<line x1="157.5" y1="224.5" x2="157.5" y2="230" stroke="#444" stroke-width="0.8" />
<line x1="182" y1="224.5" x2="182" y2="230" stroke="#444" stroke-width="0.8" />
<line x1="231" y1="224.5" x2="231" y2="230" stroke="#444" stroke-width="0.8" />
<line x1="256" y1="224.5" x2="256" y2="230" stroke="#444" stroke-width="0.8" />
<line x1="280.5" y1="224.5" x2="280.5" y2="230" stroke="#444" stroke-width="0.8" />
<line x1="305" y1="224.5" x2="305" y2="230" stroke="#444" stroke-width="0.8" />
<line x1="329.5" y1="224.5" x2="329.5" y2="230" stroke="#444" stroke-width="0.8" />
<line x1="379" y1="224.5" x2="379" y2="230" stroke="#444" stroke-width="0.8" />
<line x1="404" y1="224.5" x2="404" y2="230" stroke="#444" stroke-width="0.8" />
<line x1="428.5" y1="224.5" x2="428.5" y2="230" stroke="#444" stroke-width="0.8" />
<line x1="453.5" y1="224.5" x2="453.5" y2="230" stroke="#444" stroke-width="0.8" />
<line x1="478" y1="224.5" x2="478" y2="230" stroke="#444" stroke-width="0.8" />
<text x="26.4" y="247.6" font-size="9.2" text-anchor="start" fill="#111" stroke="#111" stroke-width="0.12" textLength="38.8" lengthAdjust="spacingAndGlyphs">Cyclin D2</text>
<text x="26.5" y="267.8" font-size="9" text-anchor="start" fill="#111" stroke="#111" stroke-width="0.12">MCL1</text>
<text x="50.3" y="268.6" font-size="3.6" text-anchor="start" fill="#222" >L</text>
<text x="26.5" y="280.5" font-size="9" text-anchor="start" fill="#111" stroke="#111" stroke-width="0.12">MCL1</text>
<text x="50.3" y="281.3" font-size="3.6" text-anchor="start" fill="#222" >S</text>
<text x="26.5" y="300.4" font-size="9" text-anchor="start" fill="#111" stroke="#111" stroke-width="0.12">PARP</text>
<text x="26.5" y="310.8" font-size="9" text-anchor="start" fill="#111" stroke="#111" stroke-width="0.12">PARP</text>
<text x="50.5" y="311.6" font-size="3.6" text-anchor="start" fill="#222" >c</text>
<text x="19.5" y="331.6" font-size="9" text-anchor="start" fill="#111" stroke="#111" stroke-width="0.12">Casp.3</text>
<text x="50.5" y="332" font-size="3.6" text-anchor="start" fill="#222" >c</text>
<text x="37.5" y="337.5" font-size="3.6" text-anchor="middle" fill="#444" >(17/19kD)</text>
<text x="33.9" y="362.2" font-size="9" text-anchor="start" fill="#111" stroke="#111" stroke-width="0.12">AKT</text>
<text x="44" y="391.5" font-size="9" text-anchor="start" fill="#111" stroke="#111" stroke-width="0.12">TCL1</text>
<line x1="54.8" y1="264" x2="63" y2="264" stroke="#111" stroke-width="1.1" />
<path d="M61.4,262.1 L66,264 L61.4,265.9 Z" fill="#111"/>
<line x1="54.8" y1="278.8" x2="63" y2="278.8" stroke="#111" stroke-width="1.1" />
<path d="M61.4,276.90000000000003 L66,278.8 L61.4,280.7 Z" fill="#111"/>
<line x1="54" y1="297" x2="63" y2="297" stroke="#111" stroke-width="1.1" />
<path d="M61.4,295.1 L66,297 L61.4,298.9 Z" fill="#111"/>
<line x1="54" y1="308.6" x2="63" y2="308.6" stroke="#111" stroke-width="1.1" />
<path d="M61.4,306.70000000000005 L66,308.6 L61.4,310.5 Z" fill="#111"/>
<line x1="54.5" y1="328.5" x2="63.3" y2="328.5" stroke="#111" stroke-width="1.1" />
<path d="M61.699999999999996,326.6 L66.3,328.5 L61.699999999999996,330.4 Z" fill="#111"/>
<line x1="54.5" y1="334.5" x2="63.3" y2="334.5" stroke="#111" stroke-width="1.1" />
<path d="M61.699999999999996,332.6 L66.3,334.5 L61.699999999999996,336.4 Z" fill="#111"/>
<line x1="52.6" y1="357" x2="62.599999999999994" y2="357" stroke="#111" stroke-width="1.1" />
<path d="M60.99999999999999,355.1 L65.6,357 L60.99999999999999,358.9 Z" fill="#111"/>
<line x1="52.6" y1="363.1" x2="62.599999999999994" y2="363.1" stroke="#111" stroke-width="1.1" />
<path d="M60.99999999999999,361.20000000000005 L65.6,363.1 L60.99999999999999,365.0 Z" fill="#111"/>
<line x1="54" y1="416.5" x2="54" y2="638.8" stroke="#000" stroke-width="1.5" />
<line x1="50.4" y1="638.2" x2="54" y2="638.2" stroke="#000" stroke-width="1.3" />
<line x1="50.4" y1="530.0" x2="54" y2="530.0" stroke="#000" stroke-width="1.3" />
<line x1="50.4" y1="421.80000000000007" x2="54" y2="421.80000000000007" stroke="#000" stroke-width="1.3" />
<text x="40.6" y="643.6" font-size="10.4" font-weight="bold" text-anchor="middle" fill="#000" >0</text>
<text x="40.6" y="534.3" font-size="10.4" font-weight="bold" text-anchor="middle" fill="#000" >1</text>
<text x="41" y="426.4" font-size="10.4" font-weight="bold" text-anchor="middle" fill="#000" >2</text>
<line x1="54" y1="530.0" x2="481" y2="530.0" stroke="#000" stroke-width="1.5" />
<text transform="translate(32.2,637.6) rotate(-90)" font-size="9.3" font-weight="bold" fill="#111" stroke="#111" stroke-width="0.12" textLength="222.5" lengthAdjust="spacingAndGlyphs">MTT absorbance at 48 hrs. (ratio to ctrl. condition)</text>
<line x1="110.8" y1="406.5" x2="110.8" y2="460.4" stroke="#222" stroke-width="1" stroke-dasharray="1.4 0.6"/>
<line x1="162" y1="406.5" x2="162" y2="460.4" stroke="#222" stroke-width="1" stroke-dasharray="1.4 0.6"/>
<line x1="254.5" y1="406.5" x2="254.5" y2="449" stroke="#222" stroke-width="1" stroke-dasharray="1.4 0.6"/>
<line x1="307.7" y1="406.5" x2="307.7" y2="413" stroke="#222" stroke-width="1" stroke-dasharray="1.4 0.6"/>
<line x1="399" y1="406.5" x2="399" y2="473" stroke="#222" stroke-width="1" stroke-dasharray="1.4 0.6"/>
<line x1="453.8" y1="406.5" x2="453.8" y2="473" stroke="#222" stroke-width="1" stroke-dasharray="1.4 0.6"/>
<text x="108.4" y="474.8" font-size="7" font-weight="bold" text-anchor="middle" fill="#111" >anti-IgM</text>
<text x="110.60000000000001" y="482.8" font-size="7" font-weight="bold" text-anchor="middle" fill="#111" >low</text>
<text x="161.5" y="474.8" font-size="7" font-weight="bold" text-anchor="middle" fill="#111" >anti-IgM</text>
<text x="163.7" y="482.8" font-size="7" font-weight="bold" text-anchor="middle" fill="#111" >high</text>
<text x="254.5" y="561.5" font-size="7" font-weight="bold" text-anchor="middle" fill="#111" >anti-IgM</text>
<text x="256.7" y="569.5" font-size="7" font-weight="bold" text-anchor="middle" fill="#111" >low</text>
<text x="307.7" y="561.5" font-size="7" font-weight="bold" text-anchor="middle" fill="#111" >anti-IgM</text>
<text x="309.9" y="569.5" font-size="7" font-weight="bold" text-anchor="middle" fill="#111" >high</text>
<text x="396.3" y="489" font-size="7" font-weight="bold" text-anchor="middle" fill="#111" >anti-IgM</text>
<text x="398.5" y="497" font-size="7" font-weight="bold" text-anchor="middle" fill="#111" >low</text>
<text x="452.3" y="489" font-size="7" font-weight="bold" text-anchor="middle" fill="#111" >anti-IgM</text>
<text x="454.5" y="497" font-size="7" font-weight="bold" text-anchor="middle" fill="#111" >high</text>
<line x1="108.3" y1="507.5" x2="161" y2="615.5" stroke="#ee1c24" stroke-width="1.4" />
<circle cx="108.3" cy="507.5" r="2.3" fill="#ee1c24"/>
<circle cx="161" cy="615.5" r="2.3" fill="#ee1c24"/>
<line x1="108.3" y1="509" x2="161" y2="611" stroke="#ee1c24" stroke-width="1.4" />
<circle cx="108.3" cy="509" r="2.3" fill="#ee1c24"/>
<circle cx="161" cy="611" r="2.3" fill="#ee1c24"/>
<line x1="108.3" y1="511" x2="161" y2="607.5" stroke="#ee1c24" stroke-width="1.4" />
<circle cx="108.3" cy="511" r="2.3" fill="#ee1c24"/>
<circle cx="161" cy="607.5" r="2.3" fill="#ee1c24"/>
<line x1="108.3" y1="512.5" x2="161" y2="603.4" stroke="#ee1c24" stroke-width="1.4" />
<circle cx="108.3" cy="512.5" r="2.3" fill="#ee1c24"/>
<circle cx="161" cy="603.4" r="2.3" fill="#ee1c24"/>
<line x1="108.3" y1="514" x2="161" y2="590" stroke="#ee1c24" stroke-width="1.4" />
<circle cx="108.3" cy="514" r="2.3" fill="#ee1c24"/>
<circle cx="161" cy="590" r="2.3" fill="#ee1c24"/>
<line x1="108.3" y1="515.5" x2="161" y2="572.2" stroke="#ee1c24" stroke-width="1.4" />
<circle cx="108.3" cy="515.5" r="2.3" fill="#ee1c24"/>
<circle cx="161" cy="572.2" r="2.3" fill="#ee1c24"/>
<line x1="108.3" y1="517" x2="161" y2="556.3" stroke="#ee1c24" stroke-width="1.4" />
<circle cx="108.3" cy="517" r="2.3" fill="#ee1c24"/>
<circle cx="161" cy="556.3" r="2.3" fill="#ee1c24"/>
<line x1="108.3" y1="518.5" x2="161" y2="605" stroke="#ee1c24" stroke-width="1.4" />
<circle cx="108.3" cy="518.5" r="2.3" fill="#ee1c24"/>
<circle cx="161" cy="605" r="2.3" fill="#ee1c24"/>
<line x1="108.3" y1="513" x2="161" y2="598" stroke="#ee1c24" stroke-width="1.4" />
<circle cx="108.3" cy="513" r="2.3" fill="#ee1c24"/>
<circle cx="161" cy="598" r="2.3" fill="#ee1c24"/>
<line x1="108.3" y1="500.7" x2="161" y2="613.2" stroke="#000" stroke-width="1.4" />
<circle cx="108.3" cy="500.7" r="2.3" fill="#000"/>
<circle cx="161" cy="613.2" r="2.3" fill="#000"/>
<line x1="108.3" y1="516.3" x2="161" y2="541.4" stroke="#ee1c24" stroke-width="1.4" />
<rect x="105.7" y="513.6999999999999" width="5.2" height="5.2" fill="#b0101a" stroke="#000" stroke-width="1.1"/>
<rect x="158.4" y="538.8" width="5.2" height="5.2" fill="#b0101a" stroke="#000" stroke-width="1.1"/>
<line x1="254.3" y1="461.6" x2="307.6" y2="420" stroke="#1a1acc" stroke-width="1.4" />
<circle cx="254.3" cy="461.6" r="2.3" fill="#1a1acc"/>
<circle cx="307.6" cy="420" r="2.3" fill="#1a1acc"/>
<line x1="254.3" y1="495" x2="307.6" y2="466.1" stroke="#1a1acc" stroke-width="1.4" />
<circle cx="254.3" cy="495" r="2.3" fill="#1a1acc"/>
<circle cx="307.6" cy="466.1" r="2.3" fill="#1a1acc"/>
<line x1="254.3" y1="499.5" x2="307.6" y2="441.7" stroke="#1a1acc" stroke-width="1.4" />
<circle cx="254.3" cy="499.5" r="2.3" fill="#1a1acc"/>
<circle cx="307.6" cy="441.7" r="2.3" fill="#1a1acc"/>
<line x1="254.3" y1="509.1" x2="307.6" y2="482.3" stroke="#1a1acc" stroke-width="1.4" />
<circle cx="254.3" cy="509.1" r="2.3" fill="#1a1acc"/>
<circle cx="307.6" cy="482.3" r="2.3" fill="#1a1acc"/>
<line x1="254.3" y1="514" x2="307.6" y2="510" stroke="#1a1acc" stroke-width="1.4" />
<circle cx="254.3" cy="514" r="2.3" fill="#1a1acc"/>
<circle cx="307.6" cy="510" r="2.3" fill="#1a1acc"/>
<line x1="254.3" y1="520.8" x2="307.6" y2="492" stroke="#1a1acc" stroke-width="1.4" />
<circle cx="254.3" cy="520.8" r="2.3" fill="#1a1acc"/>
<circle cx="307.6" cy="492" r="2.3" fill="#1a1acc"/>
<line x1="254.3" y1="522.6" x2="307.6" y2="489.3" stroke="#1a1acc" stroke-width="1.4" />
<circle cx="254.3" cy="522.6" r="2.3" fill="#1a1acc"/>
<circle cx="307.6" cy="489.3" r="2.3" fill="#1a1acc"/>
<line x1="254.3" y1="526" x2="307.6" y2="498" stroke="#1a1acc" stroke-width="1.4" />
<circle cx="254.3" cy="526" r="2.3" fill="#1a1acc"/>
<circle cx="307.6" cy="498" r="2.3" fill="#1a1acc"/>
<line x1="254.3" y1="530.5" x2="307.6" y2="469.9" stroke="#1a1acc" stroke-width="1.4" />
<circle cx="254.3" cy="530.5" r="2.3" fill="#1a1acc"/>
<circle cx="307.6" cy="469.9" r="2.3" fill="#1a1acc"/>
<line x1="254.3" y1="545.5" x2="307.6" y2="459.1" stroke="#1a1acc" stroke-width="1.4" />
<circle cx="254.3" cy="545.5" r="2.3" fill="#1a1acc"/>
<circle cx="307.6" cy="459.1" r="2.3" fill="#1a1acc"/>
<line x1="254.3" y1="482.6" x2="307.6" y2="452.7" stroke="#ee1c24" stroke-width="1.4" />
<circle cx="254.3" cy="482.6" r="2.3" fill="#ee1c24"/>
<circle cx="307.6" cy="452.7" r="2.3" fill="#ee1c24"/>
<line x1="400.8" y1="514" x2="454.2" y2="515.2" stroke="#ee1c24" stroke-width="1.4" />
<circle cx="400.8" cy="514" r="2.3" fill="#ee1c24"/>
<circle cx="454.2" cy="515.2" r="2.3" fill="#ee1c24"/>
<line x1="400.8" y1="534.6" x2="454.2" y2="521.6" stroke="#ee1c24" stroke-width="1.4" />
<circle cx="400.8" cy="534.6" r="2.3" fill="#ee1c24"/>
<circle cx="454.2" cy="521.6" r="2.3" fill="#ee1c24"/>
<line x1="400.8" y1="536.8" x2="454.2" y2="528.6" stroke="#ee1c24" stroke-width="1.4" />
<circle cx="400.8" cy="536.8" r="2.3" fill="#ee1c24"/>
<circle cx="454.2" cy="528.6" r="2.3" fill="#ee1c24"/>
<line x1="400.8" y1="539" x2="454.2" y2="530.3" stroke="#ee1c24" stroke-width="1.4" />
<circle cx="400.8" cy="539" r="2.3" fill="#ee1c24"/>
<circle cx="454.2" cy="530.3" r="2.3" fill="#ee1c24"/>
<line x1="400.8" y1="541" x2="454.2" y2="534" stroke="#ee1c24" stroke-width="1.4" />
<circle cx="400.8" cy="541" r="2.3" fill="#ee1c24"/>
<circle cx="454.2" cy="534" r="2.3" fill="#ee1c24"/>
<line x1="400.8" y1="543.3" x2="454.2" y2="536.8" stroke="#ee1c24" stroke-width="1.4" />
<circle cx="400.8" cy="543.3" r="2.3" fill="#ee1c24"/>
<circle cx="454.2" cy="536.8" r="2.3" fill="#ee1c24"/>
<line x1="400.8" y1="532" x2="454.2" y2="531" stroke="#ee1c24" stroke-width="1.4" />
<circle cx="400.8" cy="532" r="2.3" fill="#ee1c24"/>
<circle cx="454.2" cy="531" r="2.3" fill="#ee1c24"/>
<line x1="400.8" y1="514" x2="454.2" y2="532.9" stroke="#1a1acc" stroke-width="1.4" />
<circle cx="400.8" cy="514" r="2.3" fill="#1a1acc"/>
<circle cx="454.2" cy="532.9" r="2.3" fill="#1a1acc"/>
<line x1="400.8" y1="531.5" x2="454.2" y2="510.4" stroke="#1a1acc" stroke-width="1.4" />
<circle cx="400.8" cy="531.5" r="2.3" fill="#1a1acc"/>
<circle cx="454.2" cy="510.4" r="2.3" fill="#1a1acc"/>
<line x1="400.8" y1="524.2" x2="454.2" y2="548.3" stroke="#000" stroke-width="1.4" />
<circle cx="400.8" cy="524.2" r="2.3" fill="#000"/>
<circle cx="454.2" cy="548.3" r="2.3" fill="#000"/>
<line x1="400.8" y1="526.7" x2="454.2" y2="544" stroke="#000" stroke-width="1.4" />
<circle cx="400.8" cy="526.7" r="2.3" fill="#000"/>
<circle cx="454.2" cy="544" r="2.3" fill="#000"/>
<line x1="400.8" y1="563.2" x2="454.2" y2="539.2" stroke="#000" stroke-width="1.4" />
<circle cx="400.8" cy="563.2" r="2.3" fill="#000"/>
<circle cx="454.2" cy="539.2" r="2.3" fill="#000"/>
<rect x="64.2" y="630.7" width="8.3" height="8.3" fill="#ee1c24" stroke="#000" stroke-width="1.2"/>
<text x="77.7" y="637.6" font-size="8.3" text-anchor="start" fill="#111" stroke="#111" stroke-width="0.15">tonsillar B-cells</text>
<circle cx="148.6" cy="634.8" r="5" fill="#ee1c24"/>
<text x="156.3" y="638.2" font-size="8.3" text-anchor="start" fill="#111" stroke="#111" stroke-width="0.15">Strong induction of AKT</text>
<text x="156.3" y="648.8" font-size="8.3" text-anchor="start" fill="#111" stroke="#111" stroke-width="0.15">phosphorylation at 2 hr</text>
<circle cx="260" cy="634.8" r="5" fill="#1a1acc"/>
<text x="269.7" y="638.2" font-size="8.3" text-anchor="start" fill="#111" stroke="#111" stroke-width="0.15">Low-level induction of AKT</text>
<text x="269.7" y="648.8" font-size="8.3" text-anchor="start" fill="#111" stroke="#111" stroke-width="0.15">of phosphorylation at 2 hr</text>
<circle cx="384" cy="634.8" r="5" fill="#000"/>
<text x="393.3" y="638.2" font-size="8.3" text-anchor="start" fill="#111" stroke="#111" stroke-width="0.15">No increase in AKT phos-</text>
<text x="393.3" y="648.8" font-size="8.3" text-anchor="start" fill="#111" stroke="#111" stroke-width="0.15">phorylation compared to ctrl.</text>
<text x="0.3" y="699.2" font-size="15.2" font-weight="bold" text-anchor="start" fill="#000" >B</text>
<text x="24.3" y="699.3" font-size="15.2" font-weight="bold" text-anchor="start" fill="#000"  textLength="496.6" lengthAdjust="spacingAndGlyphs">Association of in vitro BCR-induced growth with TCL1 expression</text>
<line x1="61.5" y1="901.95" x2="264.5" y2="901.95" stroke="#d8d8d8" stroke-width="0.8" stroke-dasharray="1 1"/>
<line x1="262.2" y1="901.95" x2="264.5" y2="901.95" stroke="#444" stroke-width="0.8" />
<line x1="61.5" y1="857.15" x2="264.5" y2="857.15" stroke="#d8d8d8" stroke-width="0.8" stroke-dasharray="1 1"/>
<line x1="262.2" y1="857.15" x2="264.5" y2="857.15" stroke="#444" stroke-width="0.8" />
<line x1="61.5" y1="812.35" x2="264.5" y2="812.35" stroke="#d8d8d8" stroke-width="0.8" stroke-dasharray="1 1"/>
<line x1="262.2" y1="812.35" x2="264.5" y2="812.35" stroke="#444" stroke-width="0.8" />
<line x1="61.5" y1="767.55" x2="264.5" y2="767.55" stroke="#d8d8d8" stroke-width="0.8" stroke-dasharray="1 1"/>
<line x1="262.2" y1="767.55" x2="264.5" y2="767.55" stroke="#444" stroke-width="0.8" />
<rect x="61.3" y="723.2" width="203.2" height="223.5" fill="none" stroke="#555" stroke-width="1"/>
<text x="58.2" y="949.85" font-size="6.4" text-anchor="end" fill="#3a3a3a" >1,0</text>
<line x1="61.3" y1="946.75" x2="63.3" y2="946.75" stroke="#444" stroke-width="0.8" />
<text x="58.2" y="905.0500000000001" font-size="6.4" text-anchor="end" fill="#3a3a3a" >1,5</text>
<line x1="61.3" y1="901.95" x2="63.3" y2="901.95" stroke="#444" stroke-width="0.8" />
<text x="58.2" y="860.25" font-size="6.4" text-anchor="end" fill="#3a3a3a" >2,0</text>
<line x1="61.3" y1="857.15" x2="63.3" y2="857.15" stroke="#444" stroke-width="0.8" />
<text x="58.2" y="815.45" font-size="6.4" text-anchor="end" fill="#3a3a3a" >2,5</text>
<line x1="61.3" y1="812.35" x2="63.3" y2="812.35" stroke="#444" stroke-width="0.8" />
<text x="58.2" y="770.65" font-size="6.4" text-anchor="end" fill="#3a3a3a" >3,0</text>
<line x1="61.3" y1="767.55" x2="63.3" y2="767.55" stroke="#444" stroke-width="0.8" />
<text x="58.2" y="725.85" font-size="6.4" text-anchor="end" fill="#3a3a3a" >3,5</text>
<line x1="61.3" y1="722.75" x2="63.3" y2="722.75" stroke="#444" stroke-width="0.8" />
<line x1="83.5" y1="946.75" x2="83.5" y2="944.7" stroke="#444" stroke-width="0.8" />
<line x1="128.75" y1="946.75" x2="128.75" y2="944.7" stroke="#444" stroke-width="0.8" />
<line x1="174" y1="946.75" x2="174" y2="944.7" stroke="#444" stroke-width="0.8" />
<line x1="219.25" y1="946.75" x2="219.25" y2="944.7" stroke="#444" stroke-width="0.8" />
<line x1="128.75" y1="755.75" x2="128.75" y2="914.25" stroke="#1a1a1a" stroke-width="1.3" />
<line x1="119.35" y1="755.75" x2="138.15" y2="755.75" stroke="#1a1a1a" stroke-width="1.4" />
<line x1="119.35" y1="914.25" x2="138.15" y2="914.25" stroke="#1a1a1a" stroke-width="1.4" />
<rect x="110.75" y="807" width="36.25" height="56.25" fill="#4a4a4a" stroke="#1a1a1a" stroke-width="1"/>
<rect x="127.05" y="833.3" width="3.4" height="3.4" fill="#000" />
<line x1="174" y1="786.25" x2="174" y2="912" stroke="#1a1a1a" stroke-width="1.3" />
<line x1="164.6" y1="786.25" x2="183.4" y2="786.25" stroke="#1a1a1a" stroke-width="1.4" />
<line x1="164.6" y1="912" x2="183.4" y2="912" stroke="#1a1a1a" stroke-width="1.4" />
<rect x="156.25" y="830.5" width="35.75" height="37.25" fill="#4a4a4a" stroke="#1a1a1a" stroke-width="1"/>
<rect x="172.3" y="847.8" width="3.4" height="3.4" fill="#000" />
<line x1="219.25" y1="837.5" x2="219.25" y2="913.25" stroke="#1a1a1a" stroke-width="1.3" />
<line x1="209.85" y1="837.5" x2="228.65" y2="837.5" stroke="#1a1a1a" stroke-width="1.4" />
<line x1="209.85" y1="913.25" x2="228.65" y2="913.25" stroke="#1a1a1a" stroke-width="1.4" />
<rect x="200.75" y="863.75" width="36.75" height="23.75" fill="#4a4a4a" stroke="#1a1a1a" stroke-width="1"/>
<rect x="217.55" y="873.8" width="3.4" height="3.4" fill="#000" />
<text x="129.8" y="738.9" font-size="10.8" font-weight="bold" text-anchor="middle" fill="#111" >hyper-responsive /</text>
<text x="128.8" y="750.3" font-size="10.8" font-weight="bold" text-anchor="middle" fill="#111" >pro-apoptotic</text>
<text x="174.6" y="781" font-size="10.8" font-weight="bold" text-anchor="middle" fill="#111" >no response</text>
<text x="224.6" y="820.2" font-size="10.8" font-weight="bold" text-anchor="middle" fill="#111" >dose-</text>
<text x="224.4" y="832.8" font-size="10.8" font-weight="bold" text-anchor="middle" fill="#111" >dependent</text>
<text x="199.5" y="753.6" font-size="13.6" font-weight="bold" fill="#000"><tspan font-style="italic">P</tspan> = .046</text>
<rect x="77.4" y="885" width="3.2" height="3.2" fill="#000" />
<text x="91.7" y="889.7" font-size="9.3" text-anchor="start" fill="#111" stroke="#111" stroke-width="0.15">Mean</text>
<rect x="71.4" y="904.5" width="15.3" height="9.7" fill="#4a4a4a" stroke="#1a1a1a" stroke-width="0.8"/>
<text x="91.2" y="913.4" font-size="9.3" text-anchor="start" fill="#111" stroke="#111" stroke-width="0.15">±SE</text>
<line x1="71.3" y1="927.8" x2="86.7" y2="927.8" stroke="#1a1a1a" stroke-width="1.4" />
<line x1="71.3" y1="936.2" x2="86.7" y2="936.2" stroke="#1a1a1a" stroke-width="1.4" />
<line x1="79" y1="927.8" x2="79" y2="936.2" stroke="#1a1a1a" stroke-width="1.3" />
<text x="91.2" y="935.8" font-size="9.3" text-anchor="start" fill="#111" stroke="#111" stroke-width="0.15">±SD</text>
<text transform="translate(43.2,887.4) rotate(-90)" font-size="11.6" font-weight="bold" fill="#111" stroke="#111" stroke-width="0.15" textLength="107.5" lengthAdjust="spacingAndGlyphs">TCL1 protein levels</text>
<text x="63.6" y="966.2" font-size="11.8" font-weight="bold" text-anchor="start" fill="#111"  textLength="192.5" lengthAdjust="spacingAndGlyphs">48-hour growth response category</text>
</svg>
</body></html>
